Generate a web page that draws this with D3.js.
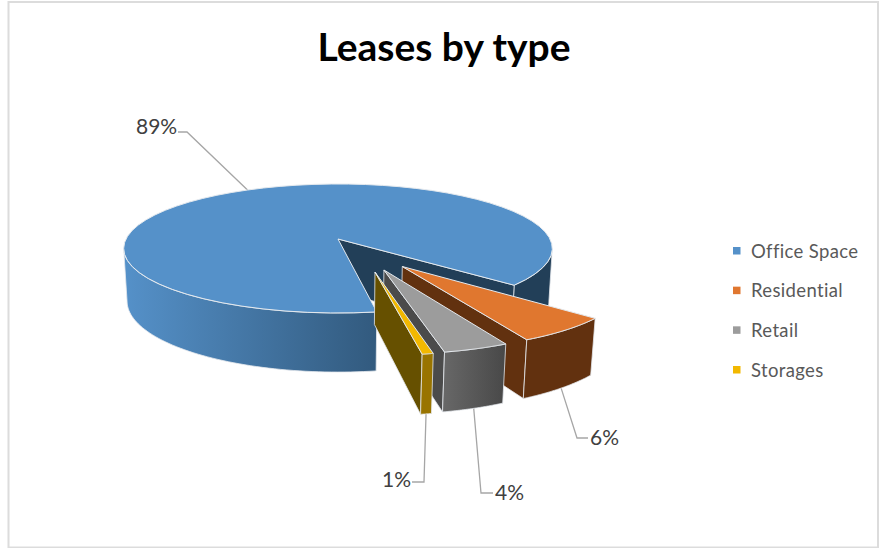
<!DOCTYPE html>
<html><head><meta charset="utf-8">
<script src="https://cdn.jsdelivr.net/npm/d3@7/dist/d3.min.js"></script>
<style>html,body{margin:0;padding:0;background:#fff}svg{display:block}text{font-family:Lato,sans-serif}</style>
</head><body><svg id="c" width="882" height="548"></svg>
<script>
const categories = ["Office Space","Residential","Retail","Storages"];
const shares = [89,6.2,4.1,0.7];
const topColors = ["#5591c9","#e0772f","#9c9c9c","#f2b800"];

const title = "Leases by type";
const svg = d3.select("#c");
const rad = d => d*Math.PI/180;

// camera
const cx=338, cy=239, A=212, B=63.1, H=50, K=0.147, M=0.015;
const proj = (x,y,z) => { const w=1-K*y+M*z; return [cx+A*x/w, cy+(B*y+H*z)/w]; };

const styles = [
 {wall:"url(#gBlue)",cut:"#223f58",side:"#223f58",dx:0,dy:0,r:1,depth:1.05},
 {wall:"#62310f",cut:"#62310f",dx:.285,dy:.41,r:.985,depth:1},
 {wall:"url(#gGray)",cut:"#4b4b4b",dx:.202,dy:.458,r:.98,depth:1},
 {wall:"#997400",cut:"#665000",dx:.162,dy:.486,r:.965,depth:1}
];
const defs = svg.append("defs");
[["gBlue","#5591c9","#325a7e"],["gGray","#686868","#484848"]].forEach(([id,a,b])=>{
  const g=defs.append("linearGradient").attr("id",id).attr("x1",0).attr("x2",1).attr("y1",0).attr("y2",0);
  g.append("stop").attr("offset",0).attr("stop-color",a);
  g.append("stop").attr("offset",1).attr("stop-color",b);
});

svg.append("rect").attr("x",8.5).attr("y",2).attr("width",869.5).attr("height",545.5)
  .attr("fill","#fff").attr("stroke","#dcdcdc").attr("stroke-width",2);

svg.append("text").attr("x",444).attr("y",61).attr("text-anchor","middle")
  .attr("font-size",39).attr("font-weight",700).attr("fill","#000").text(title);

const pie = d3.pie().sort(null).startAngle(rad(171)).endAngle(rad(531))(shares);
const line = d3.line();
const pt = (a,rr,z,s) => proj(s.dx+rr*s.r*Math.sin(a), s.dy-rr*s.r*Math.cos(a), z*s.depth);
const arc = (a0,a1,z,s) => d3.range(0,61).map(i=>pt(a0+(a1-a0)*i/60,1,z,s));
const edge = "#e4e9ee";
const face = (d,fill,w=.8) => svg.append("path").attr("d",line(d)+"Z").attr("fill",fill)
  .attr("stroke",edge).attr("stroke-width",w).attr("stroke-linejoin","round");

// leader lines
const leaderElbows = [[[187,132],[178,132]],[[577,438],[588,438]],[[481,493],[493,493]],[[424,482],[412,482]]];
const labelSpots = [[136,134,"start"],[590,445,"start"],[495,500,"start"],[411,486.5,"end"]];
pie.forEach((d,i)=>{
  const mid=(d.startAngle+d.endAngle)/2, s=styles[i];
  const start = pt(mid,1,i?1:0,s);
  svg.append("path").attr("d",line([start,...leaderElbows[i]])).attr("fill","none")
    .attr("stroke","#a6a6a6").attr("stroke-width",1.3);
  svg.append("text").attr("x",labelSpots[i][0]).attr("y",labelSpots[i][1]).attr("text-anchor",labelSpots[i][2])
    .attr("font-size",21).attr("fill","#404040").text(d3.format(".0f")(shares[i])+"%");
});

// slices
const tangent = Math.acos(-K);
pie.forEach((d,i)=>{
  const s=styles[i], a0=d.startAngle, a1=d.endAngle;
  const apexT=pt(0,0,0,s), apexB=pt(0,0,1,s);
  if(i===0){
    const back=2*Math.PI+tangent, turn=2*Math.PI-tangent;
    face([...arc(back,a1,0,s),...arc(back,a1,1,s).reverse()],s.side);
    face([apexT,pt(a1,1,0,s),pt(a1,1,1,s),apexB],s.cut);
    face([...arc(a0,turn,0,s),...arc(a0,turn,1,s).reverse()],s.wall);
  } else {
    face([apexT,pt(a1,1,0,s),pt(a1,1,1,s),apexB],s.cut);
    face([...arc(a0,a1,0,s),...arc(a0,a1,1,s).reverse()],s.wall);
  }
  face([apexT,...arc(a0,a1,0,s)],topColors[i],1);
});

// legend
const legendY=d3.scalePoint().domain(categories).range([251,370]);
categories.forEach((c,i)=>{
  svg.append("rect").attr("x",733).attr("y",legendY(c)-4).attr("width",7.5).attr("height",7.5).attr("fill",topColors[i]);
  svg.append("text").attr("x",751).attr("y",legendY(c)+6.5).attr("font-size",18.5).attr("letter-spacing",.35)
    .attr("fill","#595959").text(c);
});
</script></body></html>
